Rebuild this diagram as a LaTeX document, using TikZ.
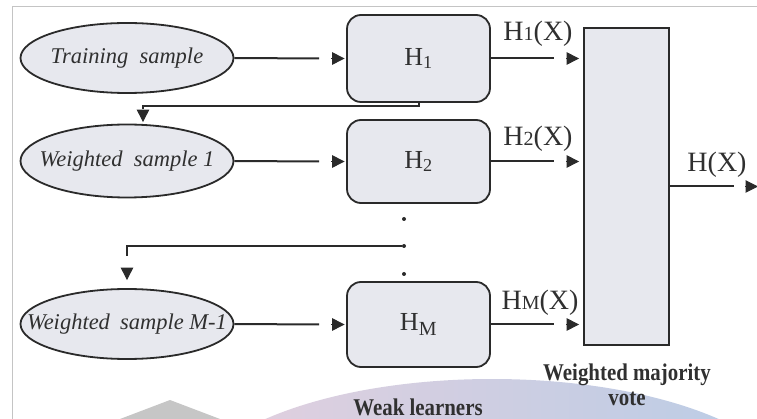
\documentclass[tikz,border=0pt]{standalone}
\usepackage{fontspec}
\setmainfont{Liberation Serif}
\usetikzlibrary{shapes.geometric,arrows.meta,calc}
\definecolor{ln}{HTML}{2A2A2A}
\definecolor{boxfill}{HTML}{E7E8EE}
\definecolor{pinkc}{HTML}{E4D0DE}
\definecolor{bluec}{HTML}{B8CCE6}
\definecolor{framec}{HTML}{C4C4C4}
\definecolor{txt}{HTML}{303030}
\newcommand\smallnum[1]{{\fontsize{20}{20}\selectfont #1}}
\newcommand\narrow[1]{\scalebox{0.87}[1]{#1}}
\begin{document}
\begin{tikzpicture}[x=1pt,y=-1pt,
  sample/.style={ellipse,draw=ln,line width=1.8pt,fill=boxfill,minimum width=213pt,minimum height=70pt,inner sep=0pt},
  stext/.style={font=\fontsize{22.5}{22.5}\selectfont\itshape,text=txt,inner sep=0pt},
  learner/.style={draw=ln,line width=1.8pt,fill=boxfill,rounded corners=14pt,minimum width=143pt,minimum height=86pt,inner sep=0pt,font=\fontsize{26}{26}\selectfont,text=txt},
  conn/.style={draw=ln,line width=2pt},
  tip/.style={draw=ln,line width=1pt,-{Triangle[length=12.5pt,width=12.5pt]}},
  lab/.style={font=\fontsize{28}{28}\selectfont,text=txt,inner sep=0pt},
  capt/.style={font=\fontsize{24}{25}\selectfont\bfseries,text=txt,align=center,inner sep=0pt},
  dotn/.style={circle,fill=ln,inner sep=0pt,minimum size=4pt}]
\useasboundingbox (0,0) rectangle (757,419);
% background
\begin{scope}
\clip (0,0) rectangle (757,419);
\fill[gray!45] (120,419) -- (170,400) -- (220,419) -- cycle;
\shade[left color=pinkc,right color=bluec] (492,500) ellipse [x radius=305, y radius=121];
\end{scope}
\draw[framec,line width=1pt] (12,419) -- (12,7) -- (757,7);
% samples
\node[sample,label={[stext]center:Training\hspace{0.5em}sample}] (s1) at (127,58) {};
\node[sample,minimum height=73pt,label={[stext]center:Weighted\hspace{0.5em}sample 1}] (s2) at (127,161) {};
\node[sample,label={[stext]center:Weighted\hspace{0.45em}sample M-1}] (s3) at (127,324) {};
% learners
\node[learner,minimum height=87pt] (h1) at (418.5,58.5) {H\textsubscript{1}};
\node[learner,minimum height=83pt] (h2) at (418.5,161.5) {H\textsubscript{2}};
\node[learner,minimum height=85pt] (hm) at (418.5,324.5) {H\textsubscript{\fontsize{20}{20}\selectfont M}};
% vote
\node[draw=ln,line width=1.8pt,fill=boxfill,minimum width=85pt,minimum height=317pt,inner sep=0pt] (v) at (626.5,186.5) {};
% sample -> learner
\foreach \s/\h in {s1/h1,s2/h2,s3/hm}{
  \draw[conn] (\s.east) -- ($(\h.west)+(-27,0)$);
  \draw[tip,shorten >=1.5pt] ($(\h.west)+(-15,0)$) -- (\h.west);
}
% learner -> vote
\foreach \h in {h1,h2,hm}{
  \draw[conn] (\h.east) -- ++(63,0);
  \draw[tip,shorten >=4pt] ($(\h.east -| v.west)+(-17,0)$) -- (\h.east -| v.west);
}
% output
\coordinate (out) at (758,186.5);
\draw[conn] (v.east) -- ++(64,0);
\draw[tip] ($(out)+(-13,0)$) -- (out);
% feedback 1
\coordinate (f1) at (143,106);
\draw[conn] (h1.south) |- (f1) -- ++(0,3);
\draw[tip,shorten >=1.5pt] (143,110) -- (s2.north -| f1);
% dots and feedback 2
\node[dotn] (d1) at (404,219) {};
\node[dotn] (d2) at (404,246) {};
\node[dotn] (d3) at (404,274) {};
\draw[conn] (d2) -| (127,256);
\draw[tip,shorten >=8pt] (127,270) -- (s3.north);
% labels
\node[lab] (l1) at (538,34) {H\smallnum{1}(X)};
\node[lab] (l2) at (538,139) {H\smallnum{2}(X)};
\node[lab] (l3) at (540,303) {H\smallnum{M}(X)};
\node[lab] (l4) at (717,165) {H(X)};
\node[capt] (c1) at (627,385) {\narrow{Weighted majority}\\\narrow{vote}};
\node[capt] (c2) at (418,407) {\narrow{Weak learners}};
\end{tikzpicture}
\end{document}
